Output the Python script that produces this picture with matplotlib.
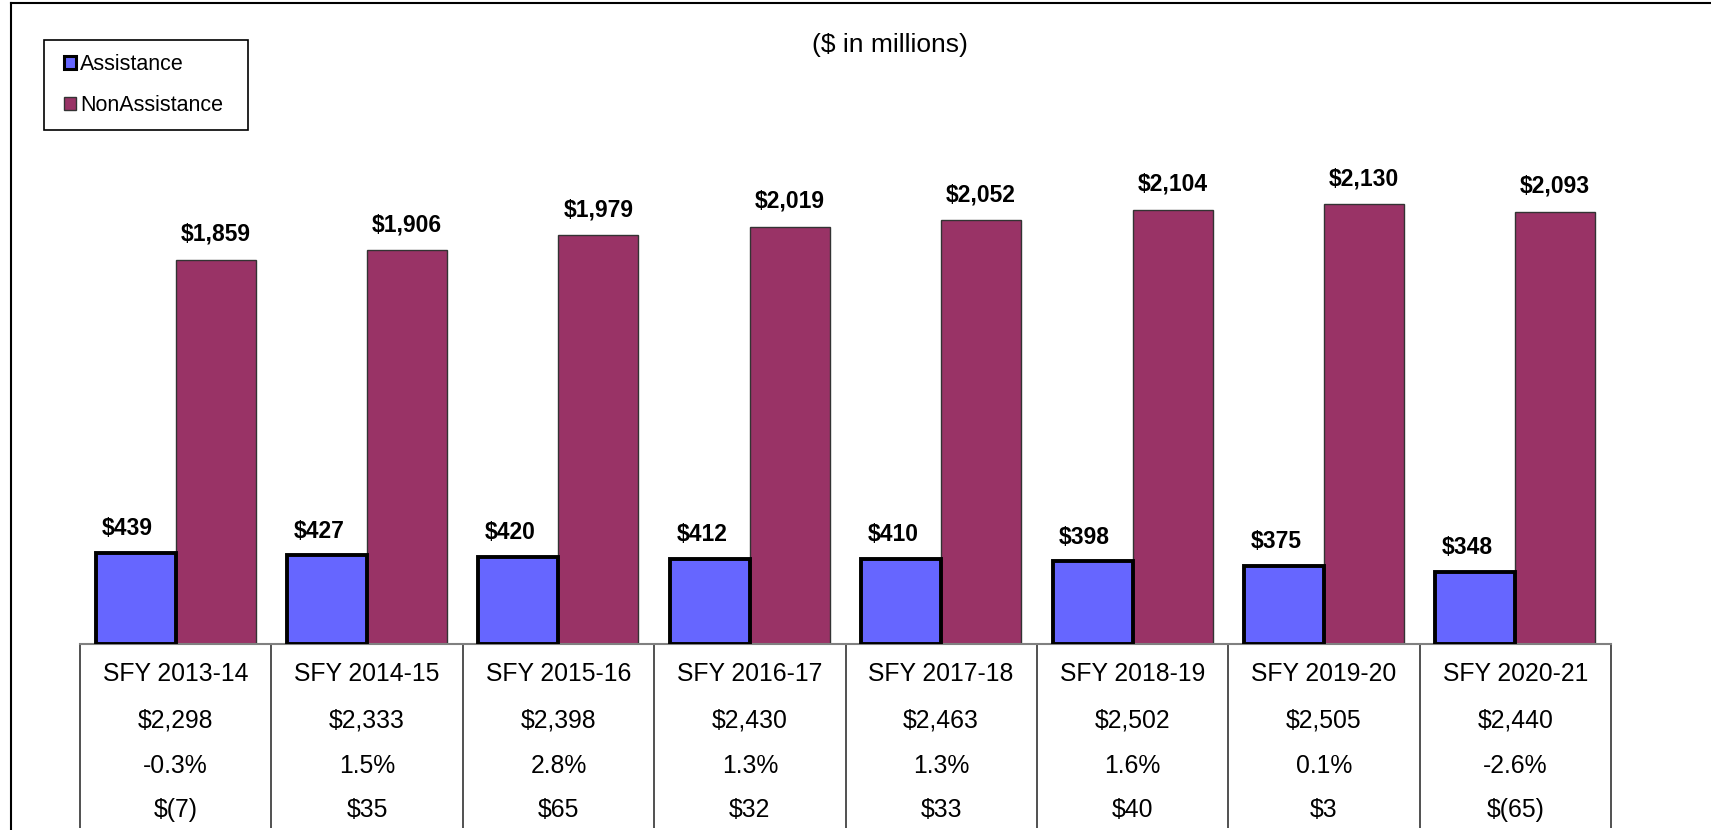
import matplotlib.pyplot as plt
import numpy as np
from matplotlib.lines import Line2D
from matplotlib.patches import Rectangle, Patch

plt.rcParams['font.family'] = ['Liberation Sans', 'DejaVu Sans']

# Data ($ in millions)
categories = ['SFY 2013-14', 'SFY 2014-15', 'SFY 2015-16', 'SFY 2016-17',
              'SFY 2017-18', 'SFY 2018-19', 'SFY 2019-20', 'SFY 2020-21']
assistance = [439, 427, 420, 412, 410, 398, 375, 348]
non_assistance = [1859, 1906, 1979, 2019, 2052, 2104, 2130, 2093]
totals = [2298, 2333, 2398, 2430, 2463, 2502, 2505, 2440]
pct_change = [-0.3, 1.5, 2.8, 1.3, 1.3, 1.6, 0.1, -2.6]
dollar_change = [-7, 35, 65, 32, 33, 40, 3, -65]

W, H = 1711, 830
fig = plt.figure(figsize=(W / 100, H / 100), dpi=100)

# plot area in pixels: x 80..1611, baseline at 643.5, ylim 0..2500
ax_l, ax_r, ax_base, ax_h = 80, 1611, 643.5, 515.5
ax = fig.add_axes([ax_l / W, (H - ax_base) / H, (ax_r - ax_l) / W, ax_h / H])

x = np.arange(len(categories))
bw = 0.418
ax.bar(x - bw / 2, assistance, bw, color='#6666FF', edgecolor='black', linewidth=2.8,
       label='Assistance', zorder=3)
ax.bar(x + bw / 2, non_assistance, bw, color='#993366', edgecolor='#333333', linewidth=1,
       label='NonAssistance', zorder=2)

ax.set_xlim(-0.5, len(categories) - 0.5)
ax.set_ylim(0, 2500)
ax.set_xticks([])
ax.set_yticks([])
for s in ['top', 'right', 'left']:
    ax.spines[s].set_visible(False)
ax.spines['bottom'].set_color('#808080')
ax.spines['bottom'].set_linewidth(1.5)

# value labels
for i, v in enumerate(assistance):
    ax.annotate(f'${v:,}', (x[i] - bw / 2, v), xytext=(-5.8, 17.5), textcoords='offset points',
                ha='center', va='center', fontsize=16.5, fontweight='bold')
for i, v in enumerate(non_assistance):
    ax.annotate(f'${v:,}', (x[i] + bw / 2, v), xytext=(0, 18.5), textcoords='offset points',
                ha='center', va='center', fontsize=16.5, fontweight='bold')

# data table under the axis
def money(v):
    return f'$({abs(v)})' if v < 0 else f'${v:,}'

rows = [categories,
        [f'${t:,}' for t in totals],
        [f'{p:.1f}%' for p in pct_change],
        [money(d) for d in dollar_change]]
row_y = [-30 / ax_h, -76.5 / ax_h, -122 / ax_h, -166.5 / ax_h]
tr = ax.get_xaxis_transform()
for vals, yy in zip(rows, row_y):
    for i, s in enumerate(vals):
        ax.text(x[i], yy, s, transform=tr, ha='center', va='center', fontsize=17.8,
                clip_on=False)
ax.vlines(np.arange(len(categories) + 1) - 0.5, -184 / ax_h, 0, transform=tr,
          color='#222222', linewidth=1.1, clip_on=False)

# legend with a square box
fig.add_artist(Rectangle((43.5 / W, 1 - 130 / H), 204.5 / W, 90 / H, transform=fig.transFigure,
                         facecolor='white', edgecolor='black', linewidth=1.2))
handles = [Patch(facecolor='#6666FF', edgecolor='black', linewidth=2.2),
           Patch(facecolor='#993366', edgecolor='#333333', linewidth=1)]
fig.legend(handles, ['Assistance', 'NonAssistance'], loc='center left',
           bbox_to_anchor=(64 / W, 1 - 85 / H), frameon=False, fontsize=15.5,
           handlelength=0.55, handleheight=0.55, handletextpad=0.2, labelspacing=0.95,
           borderpad=0, borderaxespad=0)

fig.text(890 / W, 1 - 45 / H, '($ in millions)', ha='center', va='center', fontsize=19)

# outer chart frame (left and top edges visible)
fig.add_artist(Line2D([10.5 / W, 10.5 / W], [0, 1 - 3 / H], transform=fig.transFigure,
                      color='black', linewidth=1.5))
fig.add_artist(Line2D([10.5 / W, 1], [1 - 3 / H, 1 - 3 / H], transform=fig.transFigure,
                      color='black', linewidth=1.5))

plt.savefig('out.png', dpi=100)
